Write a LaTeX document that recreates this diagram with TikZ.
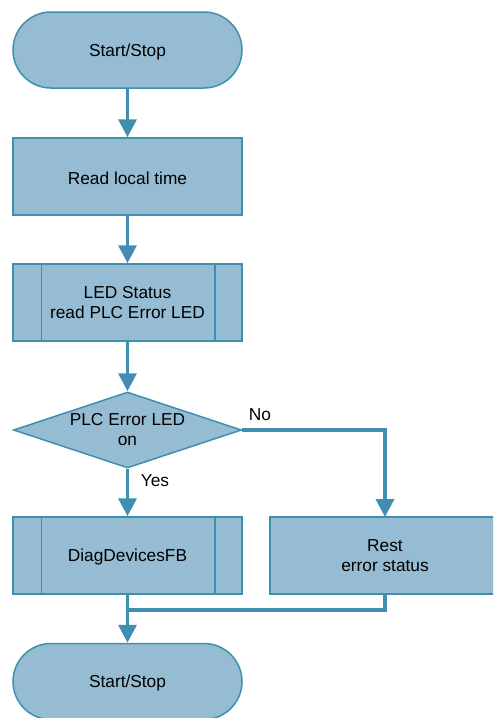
\documentclass[tikz,border=0pt]{standalone}
\usepackage{fontspec}
\setmainfont{Liberation Sans}
\usetikzlibrary{shapes.geometric,arrows.meta,calc}
\definecolor{boxfill}{HTML}{95BCD3}
\definecolor{boxline}{HTML}{3F8FB1}
\newcommand{\lowertext}[1]{\raisebox{-2pt}[\height][\depth]{#1}}
\tikzset{
  base/.style={draw=boxline, fill=boxfill, line width=1.5pt, inner sep=0pt, align=center,
    font=\fontsize{17.3}{20}\selectfont, text=black},
  term/.style={base, rectangle, rounded corners=38pt, minimum width=229pt, minimum height=76pt},
  procbox/.style={base, rectangle, minimum width=229pt, minimum height=77pt},
  decide/.style={base, diamond, aspect=3, minimum width=228pt, minimum height=76pt},
  conn/.style={draw=boxline, line width=3.5pt},
  arr/.style={conn, -{Triangle[width=18pt,length=18pt]}},
  lbl/.style={font=\fontsize{17.3}{20}\selectfont, text=black, inner sep=0pt}
}
\begin{document}
\begin{tikzpicture}[x=1pt,y=-1pt]
\useasboundingbox (0,0) rectangle (493,718);
\clip (0,0) rectangle (493,718);
\node[term] (start) at (127.5,50) {\lowertext{Start/Stop}};
\node[procbox] (read) at (127.5,176.5) {\lowertext{Read local time}};
\node[procbox] (led) at (127.5,302.5) {LED Status\\read PLC Error LED};
\draw[boxline, line width=1.5pt] ($(led.north west)+(29,0)$) -- ($(led.south west)+(29,0)$)
  ($(led.north east)+(-28,0)$) -- ($(led.south east)+(-28,0)$);
\node[decide] (dec) at (127.5,430) {PLC Error LED\\on};
\node[procbox] (diag) at (127.5,555.5) {\lowertext{DiagDevicesFB}};
\draw[boxline, line width=1.5pt] ($(diag.north west)+(29,0)$) -- ($(diag.south west)+(29,0)$)
  ($(diag.north east)+(-28,0)$) -- ($(diag.south east)+(-28,0)$);
\node[procbox, minimum width=240pt, xshift=5pt] (rest) at (385,555.5) {\hspace*{-10pt}Rest\\\hspace*{-10pt}error status};
\node[term] (stop) at (127.5,681.5) {\lowertext{Start/Stop}};
\coordinate (merge) at (127.5,610);
\coordinate (restin) at (385,517);
\coordinate (restout) at (385,594);

\draw[arr] (start) -- (read);
\draw[arr] (read) -- (led);
\draw[arr] (led) -- (dec);
\draw[arr] (dec) -- (diag);
\draw[arr] (dec.east) -| (restin);
\draw[conn] (restout) |- (merge);
\draw[arr] (diag) -- (stop);

\node[lbl] (no) at (260,415) {No};
\node[lbl] (yes) at (155,481) {Yes};
\end{tikzpicture}
\end{document}
